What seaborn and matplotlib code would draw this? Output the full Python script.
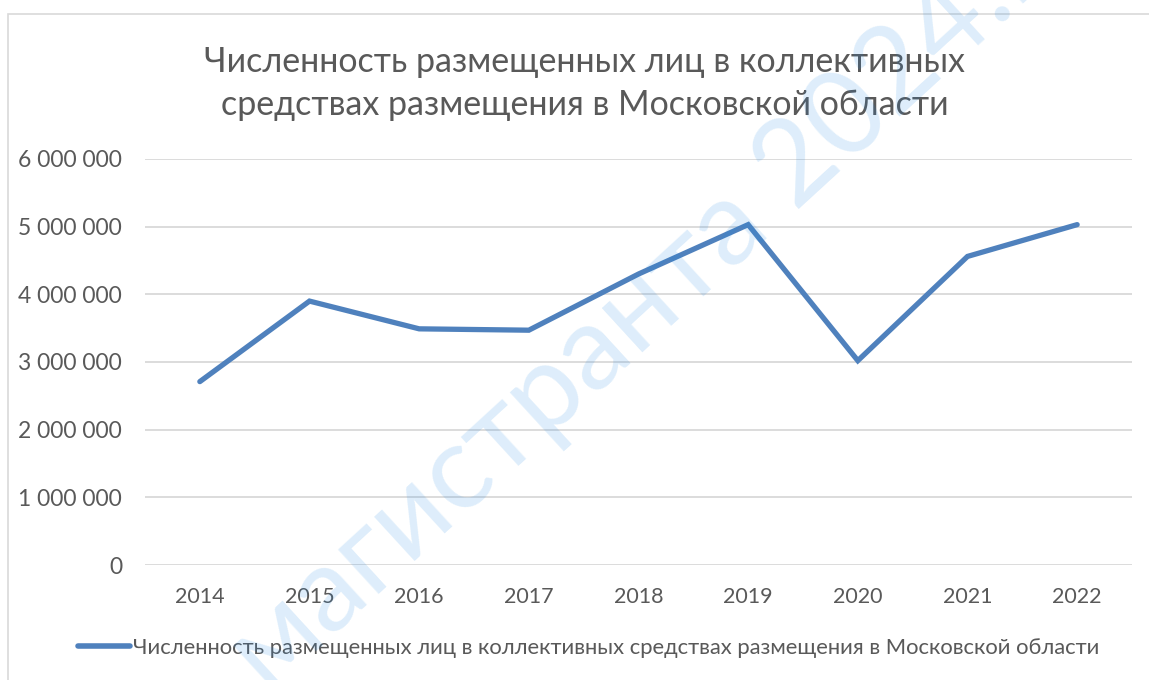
import numpy as np
import pandas as pd
import matplotlib
matplotlib.use('Agg')
import matplotlib.pyplot as plt
import seaborn as sns
from matplotlib.ticker import FuncFormatter
from matplotlib.patches import Rectangle

# data
years = ['2014', '2015', '2016', '2017', '2018', '2019', '2020', '2021', '2022']
persons = [2710000, 3900000, 3490000, 3470000, 4300000, 5030000, 3020000, 4560000, 5030000]
series_name = 'Численность размещенных лиц в коллективных средствах размещения в Московской области'
title_lines = ['Численность размещенных лиц в коллективных',
               'средствах размещения в Московской области']

df = pd.DataFrame({'year': years, 'value': persons})

sns.set_style('white')
plt.rcParams['font.family'] = ['Lato', 'DejaVu Sans']

grey = '#595959'
blue = '#4f81bd'

fig = plt.figure(figsize=(11.49, 6.8), dpi=100)
ax = fig.add_axes([0.1262, 0.1691, 0.859, 0.5971])

# chart area border
fig.patches.append(Rectangle((8 / 1149, -0.1), 1.2, 1 - 14 / 680 + 0.1, transform=fig.transFigure,
                             fill=False, edgecolor='#d9d9d9', linewidth=1.2, zorder=0))

sns.lineplot(data=df, x='year', y='value', ax=ax, color=blue, linewidth=3.8,
             label=series_name, sort=False, solid_capstyle='round', solid_joinstyle='miter')

ax.set_xlim(-0.5, len(years) - 0.5)
ax.set_ylim(0, 6000000)
ax.set_yticks(np.arange(0, 6000001, 1000000))
ax.yaxis.set_major_formatter(FuncFormatter(lambda v, p: f'{int(v):,}'.replace(',', ' ')))
ax.grid(axis='y', color='#d9d9d9', linewidth=1.3)
ax.grid(axis='x', visible=False)
ax.set_axisbelow(True)
for s in ax.spines.values():
    s.set_visible(False)
ax.set_xlabel('')
ax.set_ylabel('')
ax.tick_params(axis='both', length=0, labelcolor=grey)
ax.tick_params(axis='x', labelsize=15.5, pad=16)
ax.tick_params(axis='y', labelsize=16.5, pad=16.5)

for i, line in enumerate(title_lines):
    fig.text(0.509, 1 - (62 + 43 * i) / 680, line, ha='center', va='center',
             fontsize=24.5, color=grey)

leg = ax.legend(loc='center', bbox_to_anchor=(589 / 1149, 1 - 648 / 680), bbox_transform=fig.transFigure,
                frameon=False, fontsize=15.8, handlelength=2.35, handletextpad=0.15)
for t in leg.get_texts():
    t.set_color(grey)
for h in leg.get_lines():
    h.set_linewidth(4)

# site watermark
fig.text(268 / 1149, 1 - 695 / 680, 'магистранта 2024.ru', rotation=42.5, rotation_mode='anchor',
         ha='left', va='baseline', fontsize=85, color='#1e88e5', alpha=0.15, zorder=10)

fig.savefig('out.png', dpi=100)
